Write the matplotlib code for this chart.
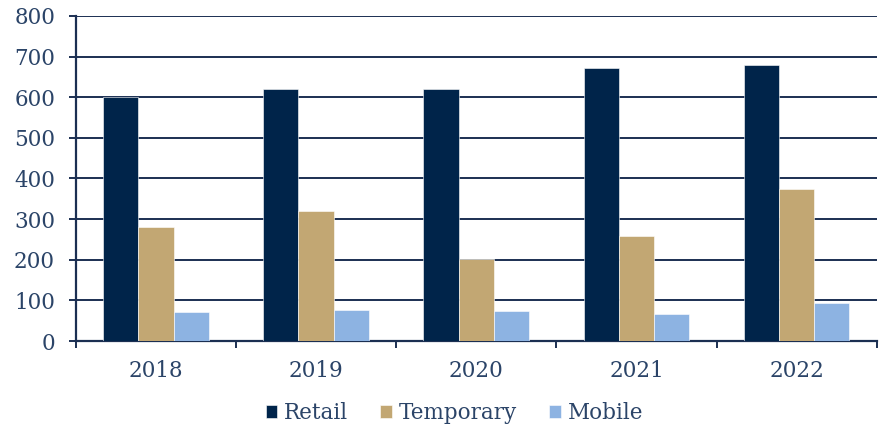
import matplotlib.pyplot as plt
import numpy as np

years = ['2018', '2019', '2020', '2021', '2022']
retail = [600, 620, 620, 672, 680]
temporary = [280, 320, 203, 258, 373]
mobile = [71, 77, 75, 67, 94]

series_names = ['Retail', 'Temporary', 'Mobile']
colors = ['#00244a', '#c2a773', '#8db3e2']
navy = '#1b2f52'
text_col = '#2b4468'

plt.rcParams['font.family'] = ['DejaVu Serif']

fig = plt.figure(figsize=(8.82, 4.29), dpi=100)
ax = fig.add_axes([0.086, 0.205, 0.908, 0.758])

x = np.arange(len(years))
w = 0.22
for i, vals in enumerate([retail, temporary, mobile]):
    ax.bar(x + (i - 1) * w, vals, width=w, color=colors[i], label=series_names[i],
           zorder=3, edgecolor='white', linewidth=0.4)

ax.set_xlim(-0.5, len(years) - 0.5)
ax.set_ylim(0, 800)
ax.set_yticks(range(0, 801, 100))
ax.yaxis.grid(True, color=navy, linewidth=1.4, zorder=0)
ax.set_axisbelow(True)

# ticks at category boundaries, labels at centres
ax.set_xticks(np.arange(-0.5, len(years), 1.0))
ax.set_xticklabels([])
ax.set_xticks(x, minor=True)
ax.set_xticklabels(years, minor=True)
ax.tick_params(axis='x', which='major', length=5, width=1.4, color=navy, direction='out')
ax.tick_params(axis='x', which='minor', length=0, pad=14, labelsize=15.5, labelcolor=text_col)
ax.tick_params(axis='y', length=5, width=1.4, color=navy, pad=10, labelsize=15.5, labelcolor=text_col)

for s in ['top', 'right']:
    ax.spines[s].set_visible(False)
for s in ['left', 'bottom']:
    ax.spines[s].set_color(navy)
    ax.spines[s].set_linewidth(1.6)

leg = fig.legend(loc='center', bbox_to_anchor=(0.515, 0.037), ncol=3, frameon=False,
                 fontsize=15.5, handlelength=0.55, handleheight=0.55, handletextpad=0.3,
                 columnspacing=1.5)
for t in leg.get_texts():
    t.set_color(text_col)

fig.savefig('out.png', dpi=100)
